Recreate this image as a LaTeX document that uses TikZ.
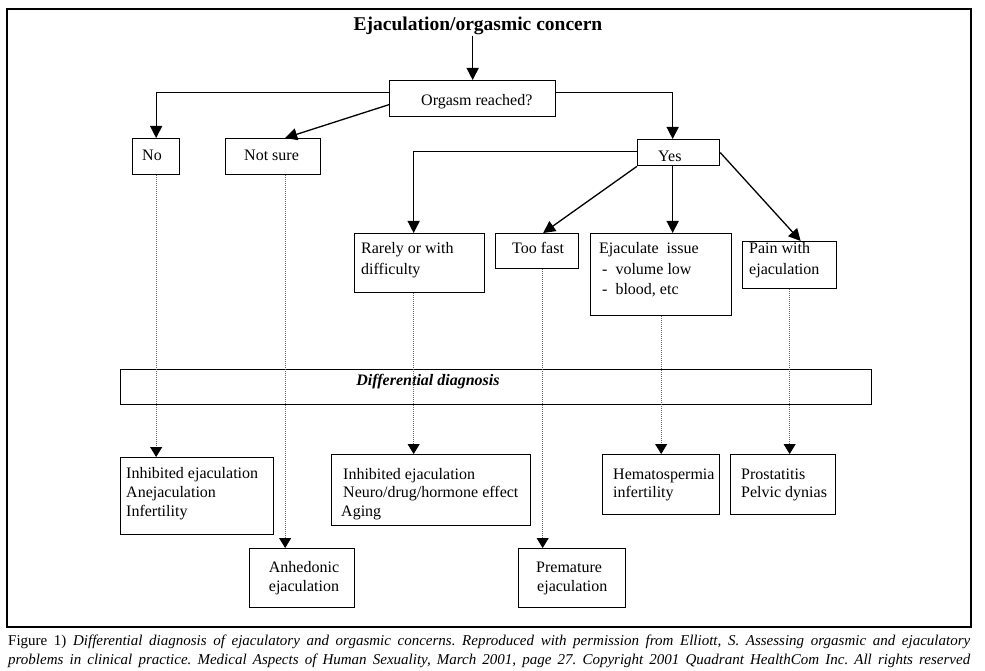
\documentclass[tikz,border=0pt]{standalone}
\usepackage{fontspec}
\setmainfont{Liberation Serif}
\usetikzlibrary{arrows.meta}
\begin{document}
\frenchspacing
\begin{tikzpicture}[x=1pt,y=-1pt,
  box/.style={draw, line width=1.3pt, rectangle, inner sep=0pt, anchor=north west},
  lbl/.style={anchor=base west, inner sep=0pt, font=\fontsize{16}{19}\selectfont},
  clbl/.style={anchor=base, inner sep=0pt, font=\fontsize{16}{19}\selectfont},
  arr/.style={line width=1.3pt, -{Triangle[length=12pt,width=12pt]}},
  dotarr/.style={line width=0.9pt, draw=black!60, dash pattern=on 0.9pt off 1.1pt, -{Triangle[length=10pt,width=12pt,color=black]}},
  captxt/.style={anchor=base west, inner sep=0pt, font=\fontsize{15}{17}\selectfont}
]
\useasboundingbox (0,0) rectangle (985,671);
\fill[white] (0,0) rectangle (985,671);
\draw[line width=1.3pt] (7,9) rectangle (971,627);

% title
\node[anchor=base, inner sep=0pt, font=\fontsize{19.5}{23}\selectfont\bfseries] (title) at (478,31) {Ejaculation/orgasmic concern};

% boxes
\node[box, minimum width=166pt, minimum height=36pt] (org) at (389,80) {};
\node[box, minimum width=47pt, minimum height=36pt] (no) at (132,138) {};
\node[box, minimum width=95pt, minimum height=36pt] (ns) at (225,138) {};
\node[box, minimum width=82pt, minimum height=26pt] (yes) at (637,139) {};
\node[box, minimum width=130pt, minimum height=59pt] (rare) at (354,233) {};
\node[box, minimum width=83pt, minimum height=35pt] (fast) at (495,233) {};
\node[box, minimum width=141pt, minimum height=82pt] (ejac) at (590,233) {};
\node[box, minimum width=94pt, minimum height=47pt] (pain) at (742,241) {};
\node[box, minimum width=751pt, minimum height=35pt] (diff) at (120,369) {};
\node[box, minimum width=153pt, minimum height=77pt] (inh1) at (120,457) {};
\node[box, minimum width=105pt, minimum height=59pt] (anh) at (249,548) {};
\node[box, minimum width=199pt, minimum height=71pt] (inh2) at (331,454) {};
\node[box, minimum width=107pt, minimum height=59pt] (prem) at (518,548) {};
\node[box, minimum width=117pt, minimum height=60pt] (hema) at (602,454) {};
\node[box, minimum width=105pt, minimum height=60pt] (pros) at (730,454) {};

% texts
\node[lbl] (torg) at (421,106) {Orgasm reached?};
\node[lbl] (tno) at (142,161) {No};
\node[lbl] (tns) at (244,161) {Not sure};
\node[lbl] (tyes) at (658,162) {Yes};
\node[lbl] (trare1) at (361,254) {Rarely or with};
\node[lbl] (trare2) at (361,274) {difficulty};
\node[lbl] (tfast) at (512,254) {Too fast};
\node[lbl] (tejac1) at (599,254) {Ejaculate~~issue};
\node[lbl] (tejac2) at (602,274) {-~~volume low};
\node[lbl] (tejac3) at (602,294) {-~~blood, etc};
\node[lbl] (tpain1) at (749,254) {Pain with};
\node[lbl] (tpain2) at (749,274) {ejaculation};
\node[anchor=base, inner sep=0pt, font=\fontsize{16}{19}\selectfont\bfseries\itshape] (tdiff) at (428,385) {Differential diagnosis};
\node[lbl] (tinh1a) at (126,478) {Inhibited ejaculation};
\node[lbl] (tinh1b) at (126,497) {Anejaculation};
\node[lbl] (tinh1c) at (126,516) {Infertility};
\node[clbl] (tanh1) at (304,572) {Anhedonic};
\node[clbl] (tanh2) at (304,591) {ejaculation};
\node[lbl] (tinh2a) at (343,479) {Inhibited ejaculation};
\node[lbl] (tinh2b) at (343,497) {Neuro/drug/hormone effect};
\node[lbl] (tinh2c) at (341,516) {Aging};
\node[lbl] (tprem1) at (536,572) {Premature};
\node[lbl] (tprem2) at (537,591) {ejaculation};
\node[lbl] (thema1) at (613,479) {Hematospermia};
\node[lbl] (thema2) at (613,497) {infertility};
\node[lbl] (tpros1) at (741,479) {Prostatitis};
\node[lbl] (tpros2) at (741,497) {Pelvic dynias};

% solid connectors
\draw[arr] (org.north |- title.south) -- (org.north);
\draw[arr] ([yshift=6pt]org.west) -| (no.north);
\draw[arr] ([yshift=-6pt]org.west) -- ([xshift=12pt]ns.north);
\draw[arr] ([yshift=6pt]org.east) -| ([xshift=-6pt]yes.north);
\draw[arr] ([yshift=1pt]yes.west) -| ([xshift=-6pt]rare.north);
\draw[arr] (yes.south west) -- ([xshift=6pt]fast.north);
\draw[arr] ([xshift=-6pt]yes.south) -- ([xshift=-6pt]yes.south |- ejac.north);
\draw[arr] (yes.east) -- ([xshift=11pt]pain.north);

% dotted connectors
\draw[dotarr] (no.south) -- (no.south |- inh1.north);
\draw[dotarr] ([xshift=12pt]ns.south) -- ([xshift=12pt]ns.south |- anh.north);
\draw[dotarr] ([xshift=-6pt]rare.south) -- ([xshift=-6pt]rare.south |- inh2.north);
\draw[dotarr] ([xshift=5.5pt]fast.south) -- ([xshift=5.5pt]fast.south |- prem.north);
\draw[dotarr] (ejac.south) -- (ejac.south |- hema.north);
\draw[dotarr] (pain.south) -- (pain.south |- pros.north);

% caption
\node[captxt] (cap1) at (8,645) {\makebox[962pt][s]{Figure 1) \itshape Differential diagnosis of ejaculatory and orgasmic concerns. Reproduced with permission from Elliott, S. Assessing orgasmic and ejaculatory}};
\node[captxt] (cap2) at (8,664) {\makebox[962pt][s]{\itshape problems in clinical practice. Medical Aspects of Human Sexuality, March 2001, page 27. Copyright 2001 Quadrant HealthCom Inc. All rights reserved}};
\end{tikzpicture}
\end{document}
